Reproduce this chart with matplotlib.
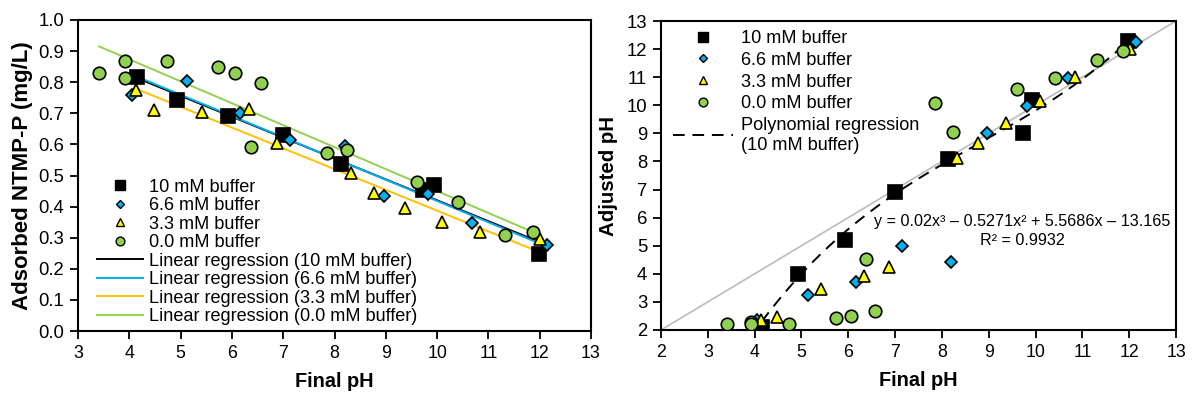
import numpy as np
from matplotlib import pyplot
from matplotlib.lines import Line2D

pyplot.rcParams['font.family'] = ['Liberation Sans', 'DejaVu Sans']

# 10 mM buffer
ph_10 = [4.15, 4.93, 5.92, 7.0, 8.13, 9.73, 9.93, 11.98]
ads_10 = [0.816, 0.743, 0.69, 0.63, 0.537, 0.453, 0.47, 0.248]
adj_10 = [2.1, 4.0, 5.2, 6.93, 8.1, 9.01, 10.19, 12.3]

# 6.6 mM buffer
ph_66 = [4.05, 5.13, 6.16, 7.14, 8.2, 8.97, 9.82, 10.69, 12.15]
ads_66 = [0.76, 0.804, 0.70, 0.614, 0.595, 0.435, 0.44, 0.347, 0.276]
adj_66 = [2.35, 3.25, 3.71, 5.0, 4.42, 9.0, 9.98, 10.98, 12.24]

# 3.3 mM buffer
ph_33 = [4.13, 4.48, 5.41, 6.33, 6.88, 8.32, 8.77, 9.37, 10.09, 10.84, 12.01]
ads_33 = [0.775, 0.711, 0.705, 0.713, 0.605, 0.508, 0.443, 0.395, 0.35, 0.318, 0.295]
adj_33 = [2.35, 2.47, 3.46, 3.93, 4.25, 8.12, 8.65, 9.37, 10.15, 11.0, 12.0]

# 0.0 mM buffer
ph_00 = [3.41, 3.92, 3.92, 4.73, 5.73, 6.06, 6.57, 6.37, 7.85, 8.24, 9.6, 10.41, 11.32, 11.87]
ads_00 = [0.83, 0.868, 0.814, 0.868, 0.85, 0.83, 0.797, 0.592, 0.572, 0.582, 0.479, 0.415, 0.309, 0.318]
adj_00 = [2.22, 2.29, 2.22, 2.22, 2.43, 2.5, 2.67, 4.53, 10.07, 9.06, 10.58, 10.97, 11.61, 11.94]

# cubic fit reported on the chart (10 mM buffer)
poly_coef = [0.02, -0.5271, 5.5686, -13.165]
r2_text = 'R² = 0.9932'
eq_text = 'y = 0.02x³ – 0.5271x² + 5.5686x – 13.165'

series = [
    ('10 mM buffer', ph_10, ads_10, adj_10, 's', 'black', 'black', 9.5),
    ('6.6 mM buffer', ph_66, ads_66, adj_66, 'D', '#00B0F0', '#00B0F0', 6.5),
    ('3.3 mM buffer', ph_33, ads_33, adj_33, '^', '#FFFF00', '#FFC000', 9),
    ('0.0 mM buffer', ph_00, ads_00, adj_00, 'o', '#92D050', '#92D050', 9),
]

fig = pyplot.figure(figsize=(12, 3.94), dpi=100)
ax1 = fig.add_axes([78 / 1200, 63 / 394, 513 / 1200, 311 / 394])
ax2 = fig.add_axes([661 / 1200, 64 / 394, 515 / 1200, 309 / 394])

# left panel: adsorbed NTMP-P
marker_handles = []
line_handles = []
for name, ph, ads, adj, mk, fc, lc, ms in series:
    ax1.plot(ph, ads, mk, ms=ms, mfc=fc, mec='black', mew=1.2, zorder=3)
    k, b = np.polyfit(ph, ads, 1)
    xs = np.array([min(ph), max(ph)])
    ax1.plot(xs, k * xs + b, color=lc, lw=1.4, zorder=2)
    marker_handles.append(Line2D([], [], ls='none', marker=mk, ms=ms * 0.7,
                                 mfc=fc, mec='black', mew=1, label=name))
    line_handles.append(Line2D([], [], color=lc, lw=1.4,
                               label='Linear regression (%s)' % name))

ax1.set_xlim(3, 13)
ax1.set_ylim(0, 1.0)
ax1.set_xticks(range(3, 14))
ax1.set_yticks(np.arange(0, 1.01, 0.1))
ax1.set_yticklabels(['%.1f' % v for v in np.arange(0, 1.01, 0.1)])
ax1.set_xlabel('Final pH', fontsize=14.3, fontweight='bold', labelpad=7)
ax1.set_ylabel('Adsorbed NTMP-P (mg/L)', fontsize=16, fontweight='bold',
               labelpad=4)
ax1.legend(handles=marker_handles + line_handles, loc='lower left',
           bbox_to_anchor=(0.02, -0.01), frameon=False, fontsize=13.1,
           labelspacing=0.08, handlelength=2.5, handletextpad=0.35,
           borderaxespad=0.1)

# right panel: adjusted pH
ax2.plot([2, 13], [2, 13], color='#BFBFBF', lw=1.3, zorder=1)
handles2 = []
for name, ph, ads, adj, mk, fc, lc, ms in series:
    ax2.plot(ph, adj, mk, ms=ms, mfc=fc, mec='black', mew=1.2, zorder=3)
    handles2.append(Line2D([], [], ls='none', marker=mk, ms=ms * 0.7,
                           mfc=fc, mec='black', mew=1, label=name))
xs = np.linspace(min(ph_10), max(ph_10), 200)
ax2.plot(xs, np.polyval(poly_coef, xs), color='black', lw=1.4,
         dashes=(6, 4), zorder=2)
handles2.append(Line2D([], [], color='black', lw=1.4, dashes=(6, 4),
                       label='Polynomial regression\n(10 mM buffer)'))
ax2.text(9.71, 5.85, eq_text, ha='center', va='center', fontsize=11.6)
ax2.text(9.71, 5.17, r2_text, ha='center', va='center', fontsize=11.6)

ax2.set_xlim(2, 13)
ax2.set_ylim(2, 13)
ax2.set_xticks(range(2, 14))
ax2.set_yticks(range(2, 14))
ax2.set_xlabel('Final pH', fontsize=14.3, fontweight='bold', labelpad=7)
ax2.set_ylabel('Adjusted pH', fontsize=14.7, fontweight='bold', labelpad=6)
ax2.legend(handles=handles2, loc='upper left', bbox_to_anchor=(0.005, 1.0),
           frameon=False, fontsize=13.1, labelspacing=0.26, handlelength=3.3,
           handletextpad=0.45, borderaxespad=0.1)

for ax in (ax1, ax2):
    for sp in ax.spines.values():
        sp.set_linewidth(1.5)
    ax.tick_params(direction='out', length=6, width=1.3, pad=4,
                   top=False, right=False)
    ax.tick_params(axis='x', labelsize=12.8)
    ax.tick_params(axis='y', labelsize=13.3)

pyplot.savefig('out.png', dpi=100)
